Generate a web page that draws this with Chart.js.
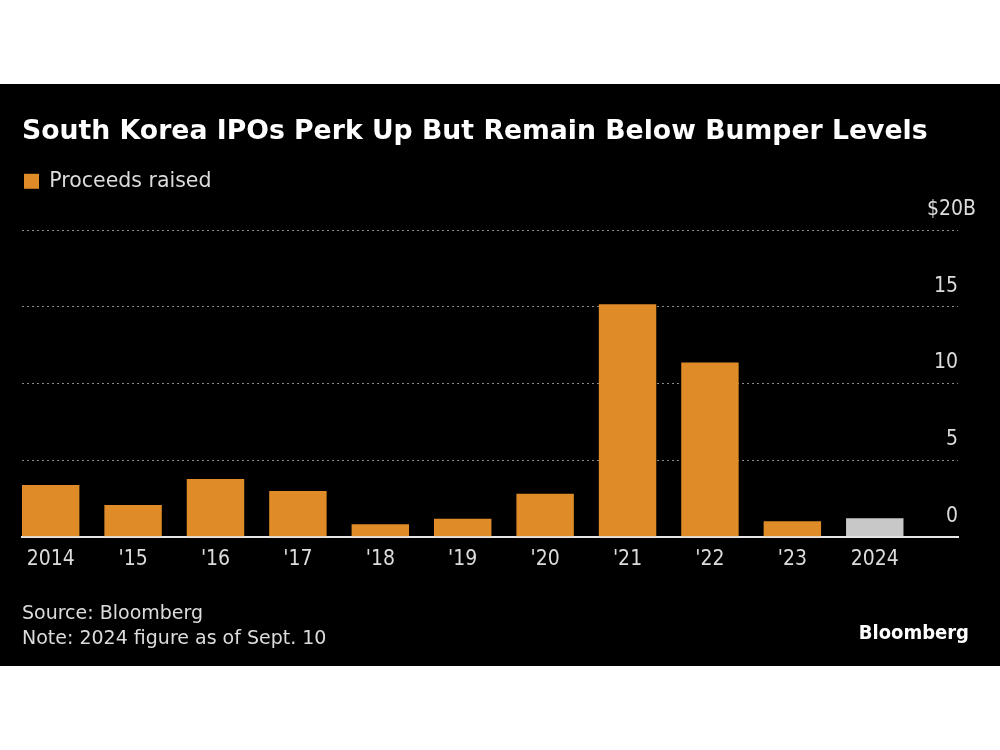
<!DOCTYPE html>
<html>
<head>
<meta charset="utf-8">
<script src="https://cdn.jsdelivr.net/npm/chart.js@4.4.1/dist/chart.umd.min.js"></script>
<style>
  html, body { margin:0; padding:0; background:#fff; width:1000px; height:750px; overflow:hidden; }
  #panel { position:absolute; left:0; top:84px; width:1000px; height:582px; background:#000; }
  #wrap { position:absolute; left:0; top:0; width:1000px; height:582px; }
  .foot { position:absolute; font-family:'DejaVu Sans',sans-serif; color:#dcdcdc; font-size:19px; line-height:25px; white-space:nowrap; }
</style>
</head>
<body>
<div id="panel">
  <div id="wrap"><canvas id="c"></canvas></div>
  <div class="foot" style="left:22px; top:516px;">Source: Bloomberg<br>Note: 2024 figure as of Sept. 10</div>
  <div class="foot" style="right:31px; top:536px; font-family:'DejaVu Sans Condensed','DejaVu Sans',sans-serif; font-size:20px; font-weight:bold; color:#fff;">Bloomberg</div>
</div>
<script>
const years = ['2014', "'15", "'16", "'17", "'18", "'19", "'20", "'21", "'22", "'23", '2024'];
const proceeds = [3.37, 2.08, 3.77, 2.98, 0.82, 1.17, 2.8, 15.16, 11.36, 1.02, 1.21];
const yTicks = [0, 5, 10, 15, 20];
const seriesName = 'Proceeds raised';

const COND = "'DejaVu Sans Condensed','DejaVu Sans',sans-serif";
const WIDE = "'DejaVu Sans',sans-serif";
Chart.defaults.font.family = COND;

const ORANGE = '#DE8B28';
const GREY = '#C8C8C8';
const yTop = yTicks[yTicks.length - 1];

const legendGap = {
  id: 'legendGap',
  beforeLayout(chart) {
    const lg = chart.legend;
    if (lg && !lg._gapPatched) {
      const f = lg.fit;
      lg.fit = function () { f.call(this); this.height += 28.5; };
      lg._gapPatched = true;
    }
  }
};

new Chart(document.getElementById('c'), {
  type: 'bar',
  data: {
    datasets: [{
      label: seriesName,
      data: proceeds.map((v, i) => ({ x: i, y: v })),
      backgroundColor: ctx => (ctx.dataIndex === proceeds.length - 1 ? GREY : ORANGE),
      borderWidth: 0,
      barPercentage: 0.697,
      categoryPercentage: 1
    }]
  },
  options: {
    responsive: true,
    maintainAspectRatio: false,
    animation: false,
    layout: { padding: { left: 22, right: 6, top: 0, bottom: 84 } },
    plugins: {
      title: {
        display: true,
        text: 'South Korea IPOs Perk Up But Remain Below Bumper Levels',
        align: 'start',
        color: '#ffffff',
        font: { size: 26.7, weight: 'bold', family: WIDE },
        padding: { top: 32, bottom: 21 }
      },
      legend: {
        display: true,
        align: 'start',
        labels: {
          color: '#dcdcdc',
          font: { size: 20.5, family: WIDE },
          boxWidth: 15,
          boxHeight: 15,
          padding: 2
        }
      },
      tooltip: { enabled: false }
    },
    scales: {
      x: {
        type: 'linear',
        offset: false,
        min: -0.348,
        max: 11.01,
        grid: { display: false, drawTicks: false },
        border: { display: true, color: '#e6e6e6', width: 2 },
        ticks: {
          stepSize: 1,
          includeBounds: false,
          autoSkip: false,
          maxRotation: 0,
          padding: 10,
          color: '#dcdcdc',
          font: { size: 21, family: COND },
          callback: v => (Number.isInteger(v) && v >= 0 && v < years.length ? years[v] : '')
        }
      },
      y: {
        position: 'right',
        min: yTicks[0],
        max: yTop,
        afterBuildTicks: s => { s.ticks = yTicks.map(v => ({ value: v })); },
        grid: {
          drawTicks: false,
          lineWidth: 1,
          color: ctx => (ctx.tick && ctx.tick.value === 0 ? 'rgba(0,0,0,0)' : '#8a8a8a')
        },
        border: { display: false, dash: [2, 3] },
        ticks: {
          mirror: true,
          padding: 0,
          labelOffset: -20.5,
          color: '#dcdcdc',
          font: { size: 21, family: COND },
          callback: v => (v === yTop ? '' : String(v))
        }
      },
      yUnit: {
        position: 'right',
        min: yTicks[0],
        max: yTop,
        afterBuildTicks: s => { s.ticks = [{ value: yTop }]; },
        grid: { display: false, drawTicks: false },
        border: { display: false },
        ticks: {
          mirror: true,
          padding: 18,
          labelOffset: -20.5,
          color: '#dcdcdc',
          font: { size: 21, family: COND },
          callback: v => '$' + v + 'B'
        }
      }
    }
  },
  plugins: [legendGap]
});
</script>
</body>
</html>
